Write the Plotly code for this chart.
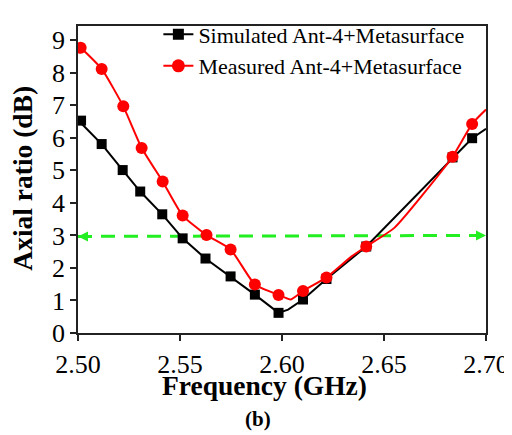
import plotly.graph_objects as go

# Simulated (black squares)
sim_x = [2.5015, 2.5116, 2.5219, 2.5305, 2.5413, 2.5513, 2.5625, 2.5748, 2.5867, 2.5983, 2.6103, 2.6218, 2.6413, 2.6836, 2.6932]
sim_y = [6.53, 5.81, 5.01, 4.35, 3.65, 2.91, 2.29, 1.74, 1.18, 0.62, 1.03, 1.66, 2.66, 5.40, 5.99]
# Simulated curve (dense, for the line)
sim_line_x = [2.5, 2.5116, 2.5219, 2.5305, 2.5413, 2.5513, 2.5625, 2.5748, 2.5867, 2.5983, 2.603, 2.6103, 2.6218, 2.6413, 2.6836, 2.6932, 2.70]
sim_line_y = [6.55, 5.81, 5.01, 4.35, 3.65, 2.91, 2.29, 1.74, 1.18, 0.62, 0.72, 1.03, 1.66, 2.66, 5.40, 5.99, 6.28]

# Measured (red circles)
mea_x = [2.5013, 2.5116, 2.5222, 2.5312, 2.5415, 2.5513, 2.5630, 2.5748, 2.5867, 2.5983, 2.6103, 2.6218, 2.6413, 2.6836, 2.6932]
mea_y = [8.77, 8.12, 6.97, 5.69, 4.66, 3.61, 3.01, 2.57, 1.49, 1.17, 1.29, 1.71, 2.66, 5.42, 6.43]
mea_line_x = [2.50, 2.5013, 2.5116, 2.5222, 2.5312, 2.5415, 2.5513, 2.5630, 2.5748, 2.5867, 2.5983, 2.6043, 2.6103, 2.6218, 2.634, 2.6413, 2.6552, 2.6836, 2.6932, 2.70]
mea_line_y = [8.80, 8.77, 8.12, 6.97, 5.69, 4.66, 3.61, 3.01, 2.57, 1.49, 1.17, 1.03, 1.29, 1.71, 2.35, 2.66, 3.24, 5.42, 6.43, 6.87]

ref_x = [2.5, 2.7]
ref_y = [2.97, 3.0]

x_ticks = [2.50, 2.55, 2.60, 2.65, 2.70]
x_tick_labels = ["2.50", "2.55", "2.60", "2.65", "2.70"]
y_ticks = list(range(0, 10))

SERIF = "Liberation Serif"
RED = "#FF0000"
GREEN = "#22EE22"

fig = go.Figure()

fig.add_trace(go.Scatter(x=ref_x, y=ref_y, mode="lines", showlegend=False,
                         line=dict(color=GREEN, width=3, dash="14px,9px"), hoverinfo="skip"))

fig.add_trace(go.Scatter(x=sim_line_x, y=sim_line_y, mode="lines", showlegend=False,
                         line=dict(color="black", width=2)))
fig.add_trace(go.Scatter(x=sim_x, y=sim_y, mode="markers", showlegend=False,
                         marker=dict(symbol="square", size=10, color="black")))
fig.add_trace(go.Scatter(x=mea_line_x, y=mea_line_y, mode="lines", showlegend=False,
                         line=dict(color=RED, width=2, shape="spline", smoothing=0.5)))
fig.add_trace(go.Scatter(x=mea_x, y=mea_y, mode="markers", showlegend=False,
                         marker=dict(symbol="circle", size=12, color=RED)))

fig.add_trace(go.Scatter(x=[None], y=[None], mode="lines+markers", name="Simulated Ant-4+Metasurface",
                         line=dict(color="black", width=2), marker=dict(symbol="square", size=11, color="black")))
fig.add_trace(go.Scatter(x=[None], y=[None], mode="lines+markers", name="Measured Ant-4+Metasurface",
                         line=dict(color=RED, width=2), marker=dict(symbol="circle", size=13, color=RED)))

fig.add_annotation(x=ref_x[0], y=ref_y[0], ax=ref_x[0] + 0.006, ay=ref_y[0], axref="x", ayref="y",
                   xref="x", yref="y", text="", showarrow=True, arrowhead=2, arrowsize=1,
                   arrowwidth=2, arrowcolor=GREEN)
fig.add_annotation(x=ref_x[1], y=ref_y[1], ax=ref_x[1] - 0.006, ay=ref_y[1], axref="x", ayref="y",
                   xref="x", yref="y", text="", showarrow=True, arrowhead=2, arrowsize=1,
                   arrowwidth=2, arrowcolor=GREEN)

# axis titles and caption as annotations (paper coordinates)
fig.add_annotation(text="<b>Frequency (GHz)</b>", xref="paper", yref="paper", x=0.458, y=-0.172,
                   xanchor="center", yanchor="middle", showarrow=False,
                   font=dict(family=SERIF, size=27.5, color="black"))
fig.add_annotation(text="<b>Axial ratio (dB)</b>", xref="paper", yref="paper", x=-0.137, y=0.503,
                   xanchor="center", yanchor="middle", textangle=-90, showarrow=False,
                   font=dict(family=SERIF, size=27.5, color="black"))
fig.add_annotation(text="<b>(b)</b>", xref="paper", yref="paper", x=0.441, y=-0.281,
                   xanchor="center", yanchor="middle", showarrow=False,
                   font=dict(family=SERIF, size=21, color="black"))

fig.update_layout(
    width=504, height=427,
    margin=dict(l=70, r=26, t=5, b=102),
    paper_bgcolor="white", plot_bgcolor="white",
    font=dict(family=SERIF, color="black"),
    legend=dict(x=0.197, y=1.041, xanchor="left", yanchor="top", bgcolor="rgba(0,0,0,0)",
                font=dict(family=SERIF, size=22), tracegroupgap=0),
    showlegend=True,
)
fig.update_xaxes(range=[2.50, 2.70], tickvals=x_ticks, ticktext=x_tick_labels, automargin=False,
                 showgrid=False, zeroline=False, showline=True, mirror=True,
                 linecolor="#222", linewidth=1.5, ticks="outside", ticklen=6, tickwidth=1.5,
                 tickcolor="#222", tickfont=dict(family=SERIF, size=26), ticklabelstandoff=1,
                 ticklabeloverflow="allow")
fig.update_yaxes(range=[0, 9.44], tickvals=y_ticks, showgrid=False, zeroline=False, automargin=False,
                 showline=True, mirror=True, linecolor="#222", linewidth=1.5,
                 ticks="outside", ticklen=6, tickwidth=1.5, tickcolor="#222",
                 tickfont=dict(family=SERIF, size=26))

fig.write_html("out.html")
